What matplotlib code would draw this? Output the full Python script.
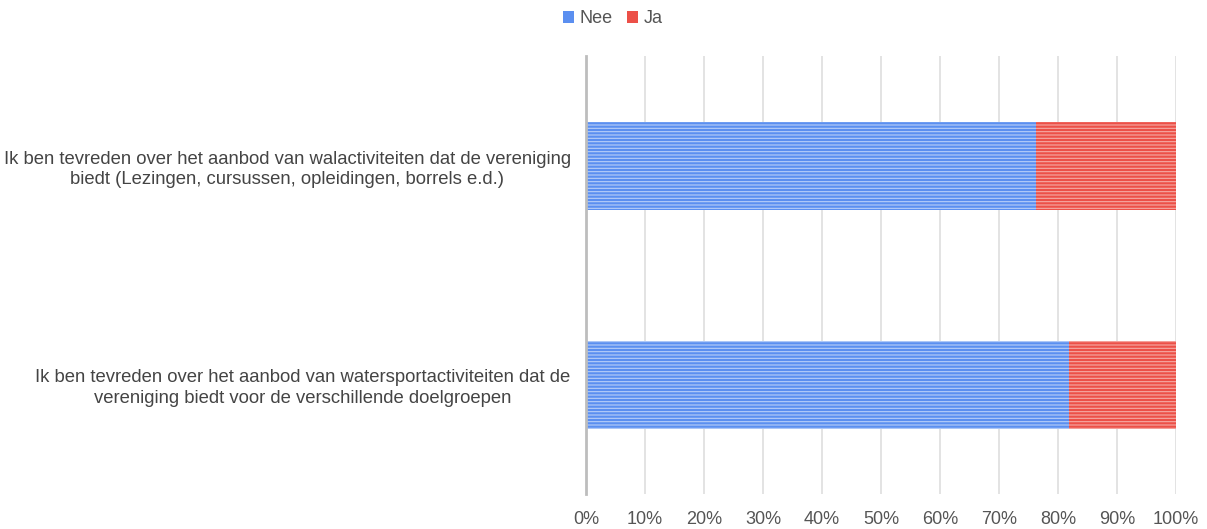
import matplotlib
matplotlib.use("Agg")
import matplotlib.pyplot as plt
from matplotlib.patches import Patch
import numpy as np

categories = [
    "Ik ben tevreden over het aanbod van walactiviteiten dat de vereniging\nbiedt (Lezingen, cursussen, opleidingen, borrels e.d.)",
    "Ik ben tevreden over het aanbod van watersportactiviteiten dat de\nvereniging biedt voor de verschillende doelgroepen",
]
nee = [76.2, 81.8]
ja = [23.8, 18.2]
series_names = ["Nee", "Ja"]
colors = ["#5b8ff0", "#ec5048"]
stripe_colors = ["#b8cef8", "#f6aaa5"]
ticks = list(range(0, 101, 10))
tick_labels = [f"{t}%" for t in ticks]

plt.rcParams['font.family'] = ['Liberation Sans', 'DejaVu Sans']
plt.rcParams['hatch.linewidth'] = 0.8

fig = plt.figure(figsize=(12.07, 5.29), dpi=100)
ax = fig.add_axes([586/1207, 1-494/529, 590/1207, 438/529])

y = np.arange(len(categories))
h = 88/219
for vals, left, c, sc in [(nee, [0]*len(nee), colors[0], stripe_colors[0]),
                          (ja, nee, colors[1], stripe_colors[1])]:
    ax.barh(y, vals, left=left, height=h, color=c, edgecolor=sc, hatch='-----',
            linewidth=0, zorder=3)

ax.set_xlim(0, 100)
ax.set_ylim(1.5, -0.5)
ax.set_xticks(ticks)
ax.set_xticklabels(tick_labels, fontsize=13, color='#555555')
ax.set_yticks(y)
ax.set_yticklabels(categories, fontsize=13.3, color='#444444', ha='right',
                   multialignment='center', linespacing=1.25)
ax.tick_params(axis='y', length=0, pad=11)
ax.tick_params(axis='x', length=0, pad=12)
ax.grid(axis='x', color='#e0e0e0', linewidth=1.3, zorder=0)
for s in ['top', 'right', 'bottom']:
    ax.spines[s].set_visible(False)
ax.spines['left'].set_color('#bdbdbd')
ax.spines['left'].set_linewidth(2)
ax.spines['left'].set_zorder(4)

handles = [Patch(facecolor=colors[0]), Patch(facecolor=colors[1])]
fig.legend(handles, series_names, loc='center', bbox_to_anchor=(613/1207, 1-19/529),
           ncol=2, frameon=False, fontsize=13, handlelength=0.6, handleheight=0.6,
           handletextpad=0.3, columnspacing=0.8, labelcolor='#555555')

fig.savefig("out.png", dpi=100)
